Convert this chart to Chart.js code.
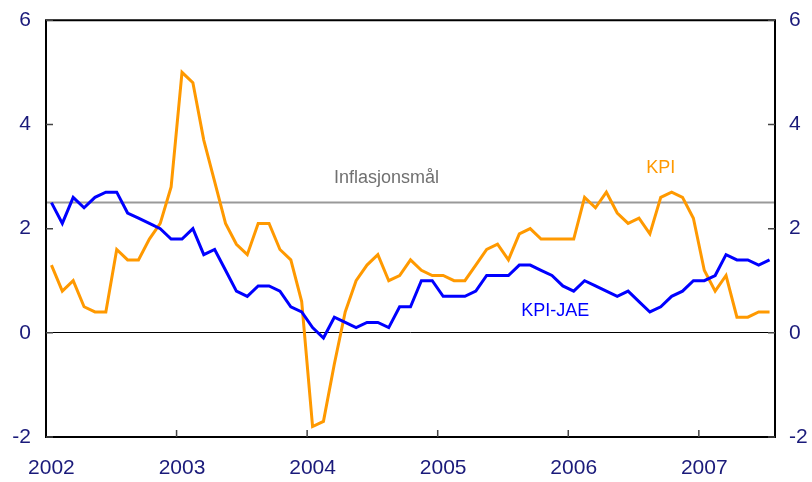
<!DOCTYPE html>
<html>
<head>
<meta charset="utf-8">
<script src="https://cdn.jsdelivr.net/npm/chart.js@4"></script>
<style>
body{margin:0;background:#fff;}
</style>
</head>
<body>
<canvas id="chart" width="812" height="482"></canvas>
<script>
/* ===== data, monthly Jan 2002 - Jul 2007 ===== */

const years=["2002","2003","2004","2005","2006","2007"];

const kpi=[
1.3,0.8,1.0,0.5,0.4,0.4,1.6,1.4,1.4,1.8,2.1,2.8,
5.0,4.8,3.7,2.9,2.1,1.7,1.5,2.1,2.1,1.6,1.4,0.6,
-1.8,-1.7,-0.6,0.4,1.0,1.3,1.5,1.0,1.1,1.4,1.2,1.1,
1.1,1.0,1.0,1.3,1.6,1.7,1.4,1.9,2.0,1.8,1.8,1.8,
1.8,2.6,2.4,2.7,2.3,2.1,2.2,1.9,2.6,2.7,2.6,2.2,
1.2,0.8,1.1,0.3,0.3,0.4,0.4
];

const kpiJae=[
2.5,2.1,2.6,2.4,2.6,2.7,2.7,2.3,2.2,2.1,2.0,1.8,
1.8,2.0,1.5,1.6,1.2,0.8,0.7,0.9,0.9,0.8,0.5,0.4,
0.1,-0.1,0.3,0.2,0.1,0.2,0.2,0.1,0.5,0.5,1.0,1.0,
0.7,0.7,0.7,0.8,1.1,1.1,1.1,1.3,1.3,1.2,1.1,0.9,
0.8,1.0,0.9,0.8,0.7,0.8,0.6,0.4,0.5,0.7,0.8,1.0,
1.0,1.1,1.5,1.4,1.4,1.3,1.4
];

const target=2.5;
const yTicks=[-2,0,2,4,6];
const months=kpi.length; // 67 months, axis ends after Jul 2007

/* ===== helpers ===== */

const toPoints=arr=>arr.map((v,i)=>({x:i+0.5,y:v}));
const tickColor="#1a1a7a";
const font={family:"Arial, 'Liberation Sans', sans-serif",size:21};
const yFont={family:"Arial, 'Liberation Sans', sans-serif",size:21,lineHeight:0.5};

/* frame, inward ticks and text labels */
const framePlugin={
id:"frame",
afterDraw(chart){
const c=chart.ctx,a=chart.chartArea;
const x=chart.scales.x,y=chart.scales.y;
c.save();
c.strokeStyle="#000";
c.lineWidth=2;
c.strokeRect(a.left,a.top,a.right-a.left,a.bottom-a.top);

c.strokeStyle="#444";
c.lineWidth=1.5;
c.beginPath();
for(let i=1;i<years.length;i++){
let px=x.getPixelForValue(i*12);
c.moveTo(px,a.bottom);c.lineTo(px,a.bottom-7);
}
yTicks.forEach(v=>{
let py=y.getPixelForValue(v);
c.moveTo(a.left,py);c.lineTo(a.left+7,py);
c.moveTo(a.right,py);c.lineTo(a.right-7,py);
});
c.stroke();

c.font="18px Arial, 'Liberation Sans', sans-serif";
c.textAlign="center";
c.textBaseline="middle";
c.fillStyle="#707070";
c.fillText("Inflasjonsmål",x.getPixelForValue(31.3),y.getPixelForValue(2.98));
c.fillStyle="#ff9900";
c.fillText("KPI",x.getPixelForValue(56.5),y.getPixelForValue(3.16));
c.fillStyle="#0000ff";
c.fillText("KPI-JAE",x.getPixelForValue(46.8),y.getPixelForValue(0.42));
c.restore();
}
};

new Chart(document.getElementById("chart"),{
type:"line",
data:{
datasets:[
{
label:"Inflasjonsmål",
data:[{x:0,y:target},{x:months,y:target}],
borderColor:"#999999",
borderWidth:2,
pointRadius:0,
order:3
},
{
label:"KPI",
data:toPoints(kpi),
borderColor:"#ff9900",
borderWidth:3,
pointRadius:0,
order:2
},
{
label:"KPI-JAE",
data:toPoints(kpiJae),
borderColor:"#0000ff",
borderWidth:3,
pointRadius:0,
order:1
}
]
},
options:{
responsive:false,
animation:false,
layout:{padding:{top:17,left:0,right:0,bottom:0}},
plugins:{legend:{display:false},tooltip:{enabled:false}},
scales:{
x:{
type:"linear",
min:0,
max:months,
afterBuildTicks:s=>{s.ticks=years.map((yr,i)=>({value:i*12+0.5}));},
afterFit:s=>{s.height=45;},
ticks:{
autoSkip:false,
maxRotation:0,
padding:19,
color:tickColor,
font:font,
callback:(v)=>years[Math.round((v-0.5)/12)]
},
grid:{display:false,drawTicks:false},
border:{display:false}
},
y:{
position:"left",
min:-2,
max:6,
afterBuildTicks:s=>{s.ticks=yTicks.map(v=>({value:v}));},
afterFit:s=>{s.width=46;},
ticks:{padding:15,color:tickColor,font:yFont},
grid:{
drawTicks:false,
color:c=>c.tick&&c.tick.value===0?"#000":"rgba(0,0,0,0)",
lineWidth:1
},
border:{display:false}
},
y2:{
position:"right",
min:-2,
max:6,
afterBuildTicks:s=>{s.ticks=yTicks.map(v=>({value:v}));},
afterFit:s=>{s.width=37;},
ticks:{padding:14,color:tickColor,font:yFont},
grid:{display:false,drawTicks:false},
border:{display:false}
}
}
},
plugins:[framePlugin]
});
</script>
</body>
</html>
